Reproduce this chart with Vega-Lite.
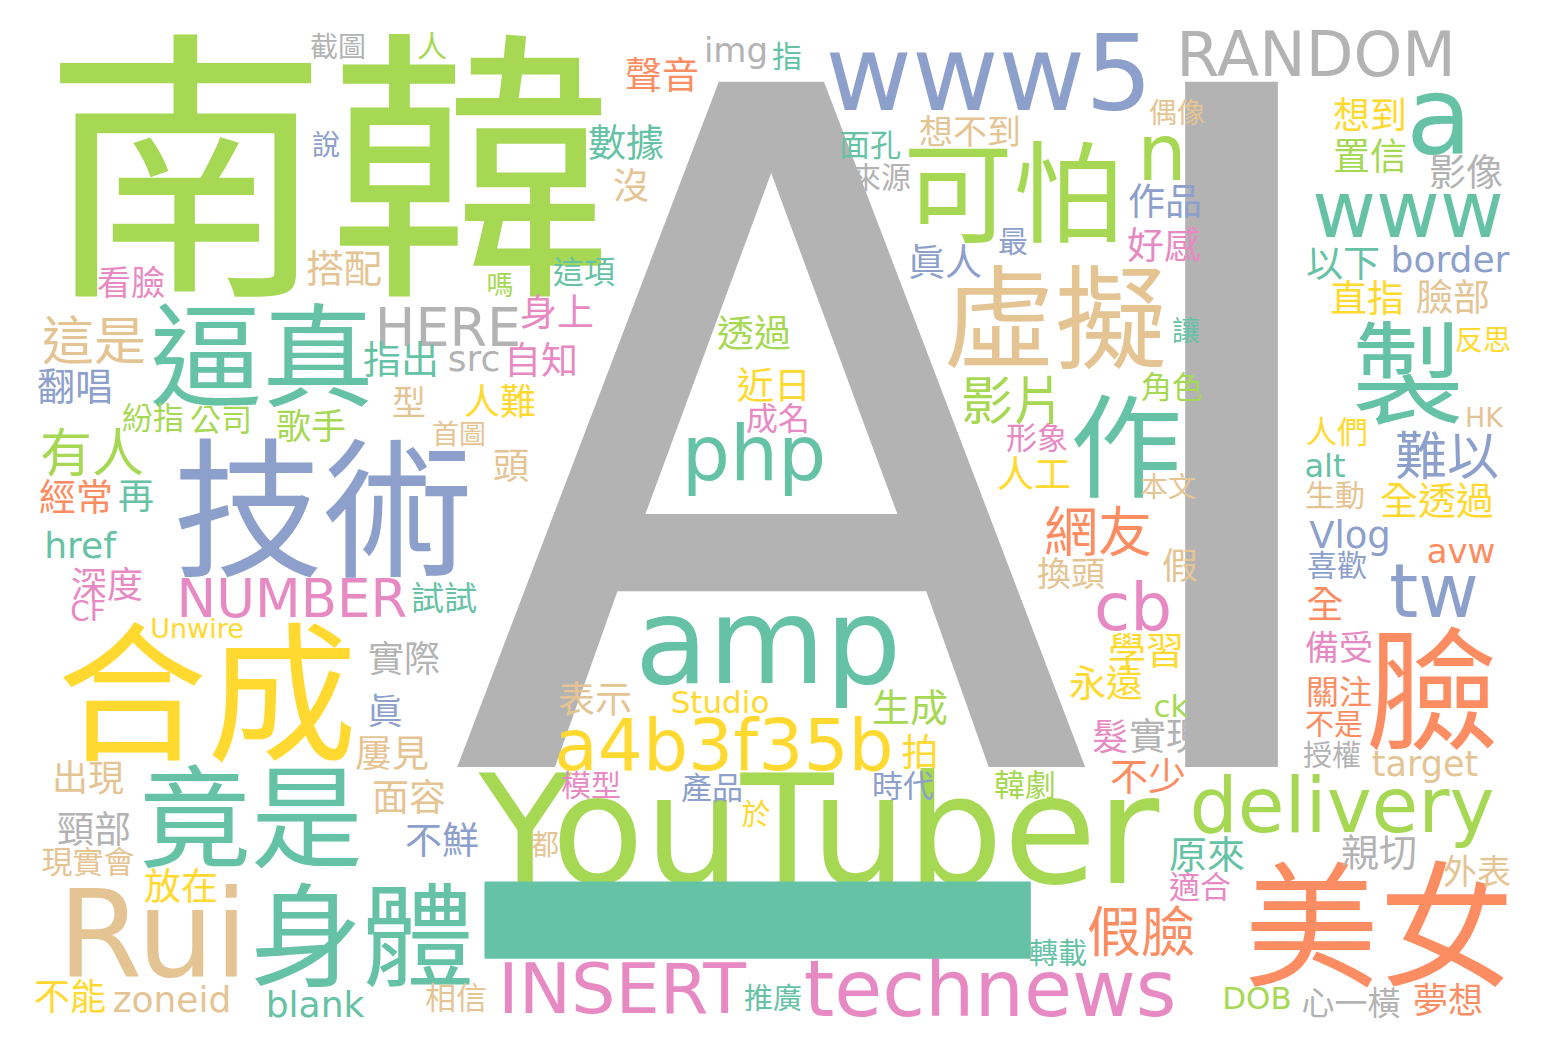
{
  "$schema": "https://vega.github.io/schema/vega-lite/v6.json",
  "width": 1548,
  "height": 1052,
  "autosize": {"type": "none"},
  "padding": 0,
  "background": "white",
  "config": {"view": {"stroke": null}},
  "data": {
    "values": [
      {"word": "AI", "x": 910, "y": 485, "weight": 940, "tone": "c7"},
      {"word": "南韓", "x": 328, "y": 188, "weight": 285, "tone": "c4"},
      {"word": "一", "x": 757, "y": 973, "weight": 590, "tone": "c0"},
      {"word": "YouTuber", "x": 819, "y": 837, "weight": 152, "tone": "c4"},
      {"word": "技術", "x": 323, "y": 520, "weight": 150, "tone": "c2"},
      {"word": "合成", "x": 207, "y": 704, "weight": 150, "tone": "c5"},
      {"word": "美女", "x": 1379, "y": 935, "weight": 135, "tone": "c1"},
      {"word": "臉", "x": 1432, "y": 699, "weight": 132, "tone": "c1"},
      {"word": "逼真", "x": 262, "y": 364, "weight": 112, "tone": "c0"},
      {"word": "竟是", "x": 251, "y": 825, "weight": 112, "tone": "c0"},
      {"word": "身體", "x": 362, "y": 944, "weight": 112, "tone": "c0"},
      {"word": "可怕", "x": 1013, "y": 201, "weight": 110, "tone": "c4"},
      {"word": "虛擬", "x": 1055, "y": 326, "weight": 112, "tone": "c6"},
      {"word": "作", "x": 1126, "y": 455, "weight": 112, "tone": "c0"},
      {"word": "製", "x": 1408, "y": 382, "weight": 112, "tone": "c0"},
      {"word": "Rui", "x": 153, "y": 939, "weight": 122, "tone": "c6"},
      {"word": "amp", "x": 768, "y": 647, "weight": 120, "tone": "c0"},
      {"word": "www5", "x": 989, "y": 78, "weight": 106, "tone": "c2"},
      {"word": "RANDOM", "x": 1316, "y": 57, "weight": 62, "tone": "c7"},
      {"word": "a", "x": 1439, "y": 121, "weight": 108, "tone": "c0"},
      {"word": "n", "x": 1162, "y": 157, "weight": 78, "tone": "c4"},
      {"word": "www", "x": 1408, "y": 214, "weight": 78, "tone": "c0"},
      {"word": "php", "x": 754, "y": 457, "weight": 76, "tone": "c0"},
      {"word": "a4b3f35b", "x": 724, "y": 749, "weight": 71, "tone": "c5"},
      {"word": "delivery", "x": 1342, "y": 809, "weight": 76, "tone": "c4"},
      {"word": "technews", "x": 990, "y": 993, "weight": 78, "tone": "c3"},
      {"word": "INSERT", "x": 622, "y": 992, "weight": 70, "tone": "c3"},
      {"word": "NUMBER", "x": 292, "y": 601, "weight": 53, "tone": "c3"},
      {"word": "HERE", "x": 448, "y": 330, "weight": 54, "tone": "c7"},
      {"word": "cb", "x": 1133, "y": 610, "weight": 66, "tone": "c3"},
      {"word": "tw", "x": 1434, "y": 595, "weight": 74, "tone": "c2"},
      {"word": "src", "x": 474, "y": 360, "weight": 36, "tone": "c7"},
      {"word": "img", "x": 736, "y": 52, "weight": 34, "tone": "c7"},
      {"word": "href", "x": 80, "y": 547, "weight": 36, "tone": "c0"},
      {"word": "Unwire", "x": 197, "y": 630, "weight": 27, "tone": "c5"},
      {"word": "CF", "x": 88, "y": 613, "weight": 28, "tone": "c3"},
      {"word": "zoneid", "x": 172, "y": 1001, "weight": 36, "tone": "c6"},
      {"word": "blank", "x": 315, "y": 1006, "weight": 36, "tone": "c0"},
      {"word": "border", "x": 1450, "y": 261, "weight": 36, "tone": "c2"},
      {"word": "alt", "x": 1325, "y": 467, "weight": 32, "tone": "c0"},
      {"word": "HK", "x": 1484, "y": 419, "weight": 27, "tone": "c6"},
      {"word": "Vlog", "x": 1350, "y": 537, "weight": 37, "tone": "c2"},
      {"word": "avw", "x": 1461, "y": 553, "weight": 34, "tone": "c1"},
      {"word": "target", "x": 1425, "y": 765, "weight": 35, "tone": "c6"},
      {"word": "ck", "x": 1171, "y": 708, "weight": 31, "tone": "c4"},
      {"word": "Studio", "x": 720, "y": 704, "weight": 31, "tone": "c5"},
      {"word": "DOB", "x": 1257, "y": 1000, "weight": 31, "tone": "c4"},
      {"word": "截圖", "x": 338, "y": 49, "weight": 28, "tone": "c7"},
      {"word": "人", "x": 432, "y": 48, "weight": 30, "tone": "c4"},
      {"word": "說", "x": 326, "y": 147, "weight": 28, "tone": "c2"},
      {"word": "看臉", "x": 131, "y": 285, "weight": 34, "tone": "c3"},
      {"word": "搭配", "x": 344, "y": 271, "weight": 38, "tone": "c6"},
      {"word": "嗎", "x": 500, "y": 287, "weight": 27, "tone": "c4"},
      {"word": "這是", "x": 94, "y": 344, "weight": 52, "tone": "c6"},
      {"word": "指出", "x": 401, "y": 362, "weight": 38, "tone": "c0"},
      {"word": "型", "x": 409, "y": 405, "weight": 34, "tone": "c6"},
      {"word": "人難", "x": 500, "y": 404, "weight": 36, "tone": "c5"},
      {"word": "首圖", "x": 459, "y": 436, "weight": 27, "tone": "c6"},
      {"word": "頭", "x": 511, "y": 468, "weight": 36, "tone": "c6"},
      {"word": "翻唱", "x": 75, "y": 389, "weight": 38, "tone": "c2"},
      {"word": "紛指", "x": 153, "y": 420, "weight": 31, "tone": "c4"},
      {"word": "公司", "x": 221, "y": 422, "weight": 31, "tone": "c4"},
      {"word": "歌手", "x": 311, "y": 428, "weight": 35, "tone": "c4"},
      {"word": "有人", "x": 92, "y": 456, "weight": 52, "tone": "c4"},
      {"word": "經常", "x": 76, "y": 500, "weight": 37, "tone": "c1"},
      {"word": "再", "x": 136, "y": 498, "weight": 36, "tone": "c0"},
      {"word": "深度", "x": 107, "y": 587, "weight": 36, "tone": "c3"},
      {"word": "試試", "x": 444, "y": 600, "weight": 33, "tone": "c0"},
      {"word": "實際", "x": 404, "y": 661, "weight": 36, "tone": "c7"},
      {"word": "眞", "x": 385, "y": 713, "weight": 35, "tone": "c2"},
      {"word": "屢見", "x": 392, "y": 756, "weight": 37, "tone": "c6"},
      {"word": "出現", "x": 88, "y": 780, "weight": 36, "tone": "c6"},
      {"word": "面容", "x": 409, "y": 800, "weight": 37, "tone": "c6"},
      {"word": "頸部", "x": 94, "y": 832, "weight": 37, "tone": "c7"},
      {"word": "不鮮", "x": 442, "y": 843, "weight": 37, "tone": "c2"},
      {"word": "現實會", "x": 88, "y": 864, "weight": 31, "tone": "c6"},
      {"word": "放在", "x": 181, "y": 889, "weight": 37, "tone": "c5"},
      {"word": "不能", "x": 70, "y": 999, "weight": 36, "tone": "c5"},
      {"word": "相信", "x": 456, "y": 1000, "weight": 31, "tone": "c6"},
      {"word": "聲音", "x": 662, "y": 78, "weight": 37, "tone": "c1"},
      {"word": "指", "x": 787, "y": 58, "weight": 30, "tone": "c0"},
      {"word": "數據", "x": 626, "y": 145, "weight": 38, "tone": "c0"},
      {"word": "沒", "x": 631, "y": 188, "weight": 36, "tone": "c6"},
      {"word": "這項", "x": 584, "y": 274, "weight": 31, "tone": "c0"},
      {"word": "身上", "x": 557, "y": 315, "weight": 37, "tone": "c3"},
      {"word": "自知", "x": 541, "y": 363, "weight": 37, "tone": "c3"},
      {"word": "透過", "x": 754, "y": 336, "weight": 37, "tone": "c4"},
      {"word": "近日", "x": 774, "y": 388, "weight": 37, "tone": "c5"},
      {"word": "成名", "x": 778, "y": 420, "weight": 32, "tone": "c3"},
      {"word": "偶像", "x": 1177, "y": 115, "weight": 28, "tone": "c6"},
      {"word": "想不到", "x": 970, "y": 134, "weight": 34, "tone": "c6"},
      {"word": "面孔", "x": 870, "y": 147, "weight": 31, "tone": "c0"},
      {"word": "來源", "x": 881, "y": 179, "weight": 30, "tone": "c7"},
      {"word": "最", "x": 1013, "y": 243, "weight": 30, "tone": "c2"},
      {"word": "眞人", "x": 945, "y": 265, "weight": 37, "tone": "c2"},
      {"word": "作品", "x": 1165, "y": 204, "weight": 37, "tone": "c2"},
      {"word": "好感", "x": 1164, "y": 248, "weight": 37, "tone": "c3"},
      {"word": "讓", "x": 1186, "y": 333, "weight": 28, "tone": "c0"},
      {"word": "影片", "x": 1013, "y": 404, "weight": 52, "tone": "c4"},
      {"word": "角色", "x": 1172, "y": 389, "weight": 31, "tone": "c4"},
      {"word": "形象", "x": 1037, "y": 440, "weight": 31, "tone": "c3"},
      {"word": "人工", "x": 1034, "y": 477, "weight": 37, "tone": "c5"},
      {"word": "本文", "x": 1168, "y": 489, "weight": 28, "tone": "c6"},
      {"word": "想到", "x": 1370, "y": 118, "weight": 37, "tone": "c5"},
      {"word": "置信", "x": 1370, "y": 159, "weight": 37, "tone": "c4"},
      {"word": "影像", "x": 1466, "y": 175, "weight": 37, "tone": "c7"},
      {"word": "以下", "x": 1343, "y": 266, "weight": 37, "tone": "c0"},
      {"word": "直指", "x": 1367, "y": 301, "weight": 37, "tone": "c5"},
      {"word": "臉部", "x": 1453, "y": 300, "weight": 37, "tone": "c6"},
      {"word": "反思", "x": 1483, "y": 342, "weight": 28, "tone": "c5"},
      {"word": "人們", "x": 1337, "y": 434, "weight": 31, "tone": "c5"},
      {"word": "難以", "x": 1447, "y": 459, "weight": 52, "tone": "c2"},
      {"word": "生動", "x": 1335, "y": 497, "weight": 30, "tone": "c6"},
      {"word": "全透過", "x": 1437, "y": 503, "weight": 38, "tone": "c5"},
      {"word": "網友", "x": 1098, "y": 536, "weight": 54, "tone": "c1"},
      {"word": "換頭", "x": 1071, "y": 576, "weight": 34, "tone": "c6"},
      {"word": "假", "x": 1180, "y": 568, "weight": 36, "tone": "c6"},
      {"word": "學習", "x": 1146, "y": 653, "weight": 38, "tone": "c5"},
      {"word": "永遠", "x": 1106, "y": 686, "weight": 37, "tone": "c5"},
      {"word": "髮", "x": 1110, "y": 739, "weight": 36, "tone": "c3"},
      {"word": "實現", "x": 1166, "y": 739, "weight": 37, "tone": "c7"},
      {"word": "不少", "x": 1148, "y": 779, "weight": 38, "tone": "c1"},
      {"word": "喜歡", "x": 1337, "y": 567, "weight": 30, "tone": "c2"},
      {"word": "全", "x": 1325, "y": 607, "weight": 37, "tone": "c1"},
      {"word": "備受", "x": 1339, "y": 650, "weight": 34, "tone": "c3"},
      {"word": "關注", "x": 1339, "y": 694, "weight": 33, "tone": "c1"},
      {"word": "不是", "x": 1334, "y": 726, "weight": 29, "tone": "c1"},
      {"word": "授權", "x": 1332, "y": 757, "weight": 29, "tone": "c7"},
      {"word": "韓劇", "x": 1025, "y": 787, "weight": 31, "tone": "c4"},
      {"word": "原來", "x": 1207, "y": 857, "weight": 38, "tone": "c0"},
      {"word": "適合", "x": 1200, "y": 889, "weight": 31, "tone": "c3"},
      {"word": "親切", "x": 1379, "y": 855, "weight": 38, "tone": "c7"},
      {"word": "外表", "x": 1477, "y": 874, "weight": 34, "tone": "c6"},
      {"word": "假臉", "x": 1141, "y": 936, "weight": 54, "tone": "c1"},
      {"word": "轉載", "x": 1058, "y": 955, "weight": 29, "tone": "c0"},
      {"word": "心一橫", "x": 1351, "y": 1005, "weight": 33, "tone": "c7"},
      {"word": "夢想", "x": 1448, "y": 1002, "weight": 35, "tone": "c1"},
      {"word": "表示", "x": 595, "y": 702, "weight": 37, "tone": "c6"},
      {"word": "生成", "x": 910, "y": 710, "weight": 38, "tone": "c4"},
      {"word": "拍", "x": 920, "y": 755, "weight": 37, "tone": "c5"},
      {"word": "模型", "x": 591, "y": 787, "weight": 30, "tone": "c3"},
      {"word": "產品", "x": 712, "y": 790, "weight": 31, "tone": "c2"},
      {"word": "時代", "x": 903, "y": 788, "weight": 31, "tone": "c2"},
      {"word": "於", "x": 756, "y": 816, "weight": 29, "tone": "c5"},
      {"word": "都", "x": 545, "y": 847, "weight": 28, "tone": "c6"},
      {"word": "推廣", "x": 773, "y": 1000, "weight": 29, "tone": "c0"}
    ]
  },
  "encoding": {
    "x": {"field": "x", "type": "quantitative", "axis": null,
          "scale": {"domain": [0, 1548], "nice": false, "zero": false}},
    "y": {"field": "y", "type": "quantitative", "axis": null,
          "scale": {"domain": [0, 1052], "nice": false, "zero": false, "reverse": true}},
    "size": {"field": "weight", "type": "quantitative", "legend": null,
             "scale": {"type": "linear", "domain": [0, 1000], "range": [0, 1000]}},
    "color": {"field": "tone", "type": "nominal", "legend": null,
              "scale": {"domain": ["c0", "c1", "c2", "c3", "c4", "c5", "c6", "c7"],
                        "range": ["#66c2a5", "#fc8d62", "#8da0cb", "#e78ac3", "#a6d854", "#ffd92f", "#e5c494", "#b3b3b3"]}},
    "text": {"field": "word", "type": "nominal"}
  },
  "layer": [
    {
      "transform": [{"filter": "datum.word !== '一'"}],
      "mark": {"type": "text", "align": "center", "baseline": "middle",
               "font": "DejaVu Sans, Noto Sans CJK TC"}
    },
    {
      "transform": [{"filter": "datum.word === '一'"}],
      "mark": {"type": "text", "align": "center", "baseline": "middle",
               "font": "Noto Sans CJK TC", "fontWeight": "bold"}
    }
  ]
}
